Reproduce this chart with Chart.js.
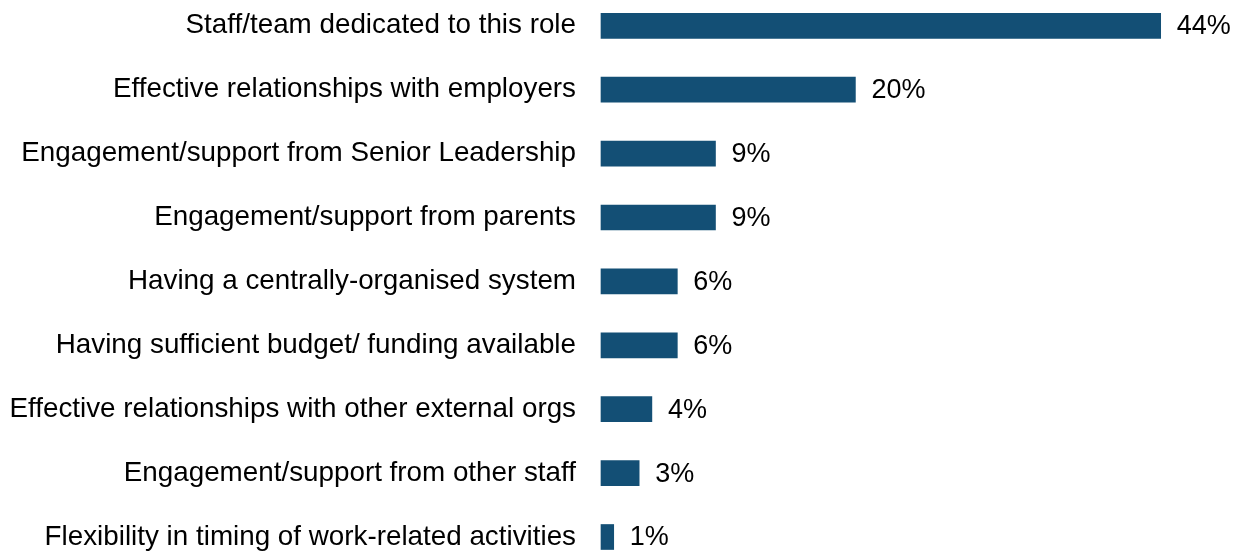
<!DOCTYPE html>
<html>
<head>
<meta charset="utf-8">
<script src="https://cdn.jsdelivr.net/npm/chart.js@4"></script>
<style>
html,body{margin:0;padding:0;background:#fff;}
#wrap{width:1242px;height:553px;position:relative;}
</style>
</head>
<body>
<div id="wrap"><canvas id="c" width="1242" height="553"></canvas></div>
<script>
const categories = [
  "Staff/team dedicated to this role",
  "Effective relationships with employers",
  "Engagement/support from Senior Leadership",
  "Engagement/support from parents",
  "Having a centrally-organised system",
  "Having sufficient budget/ funding available",
  "Effective relationships with other external orgs",
  "Engagement/support from other staff",
  "Flexibility in timing of work-related activities"
];
const values = [44, 20, 9, 9, 6, 6, 4, 3, 1];
const valueLabels = ["44%", "20%", "9%", "9%", "6%", "6%", "4%", "3%", "1%"];

const FONT = "'Liberation Sans', Arial, sans-serif";

const labelPlugin = {
  id: 'valueLabels',
  afterDatasetsDraw(chart) {
    const ctx = chart.ctx;
    const meta = chart.getDatasetMeta(0);
    ctx.save();
    ctx.font = "27px " + FONT;
    ctx.fillStyle = "#000";
    ctx.textAlign = "left";
    ctx.textBaseline = "middle";
    meta.data.forEach((bar, i) => {
      ctx.fillText(valueLabels[i], bar.x + 16, bar.y + 1);
    });
    ctx.restore();
  }
};

new Chart(document.getElementById('c'), {
  type: 'bar',
  data: {
    labels: categories,
    datasets: [{
      data: values,
      backgroundColor: '#134f75',
      borderWidth: 0,
      barThickness: 25,
      clip: false
    }]
  },
  options: {
    indexAxis: 'y',
    responsive: false,
    animation: false,
    layout: { padding: { top: 25.8, bottom: 16, left: 0, right: 5 } },
    plugins: { legend: { display: false }, tooltip: { enabled: false } },
    scales: {
      x: { display: false, min: 0, max: 50 },
      y: {
        offset: false,
        grid: { display: false, drawTicks: false, offset: false },
        border: { display: false },
        ticks: {
          padding: 25,
          color: '#000',
          font: { family: FONT, size: 27.8 }
        },
        afterFit(scale) {
          scale.width = 601;
          scale.paddingTop = 0;
          scale.paddingBottom = 0;
        }
      }
    }
  },
  plugins: [labelPlugin]
});
</script>
</body>
</html>
